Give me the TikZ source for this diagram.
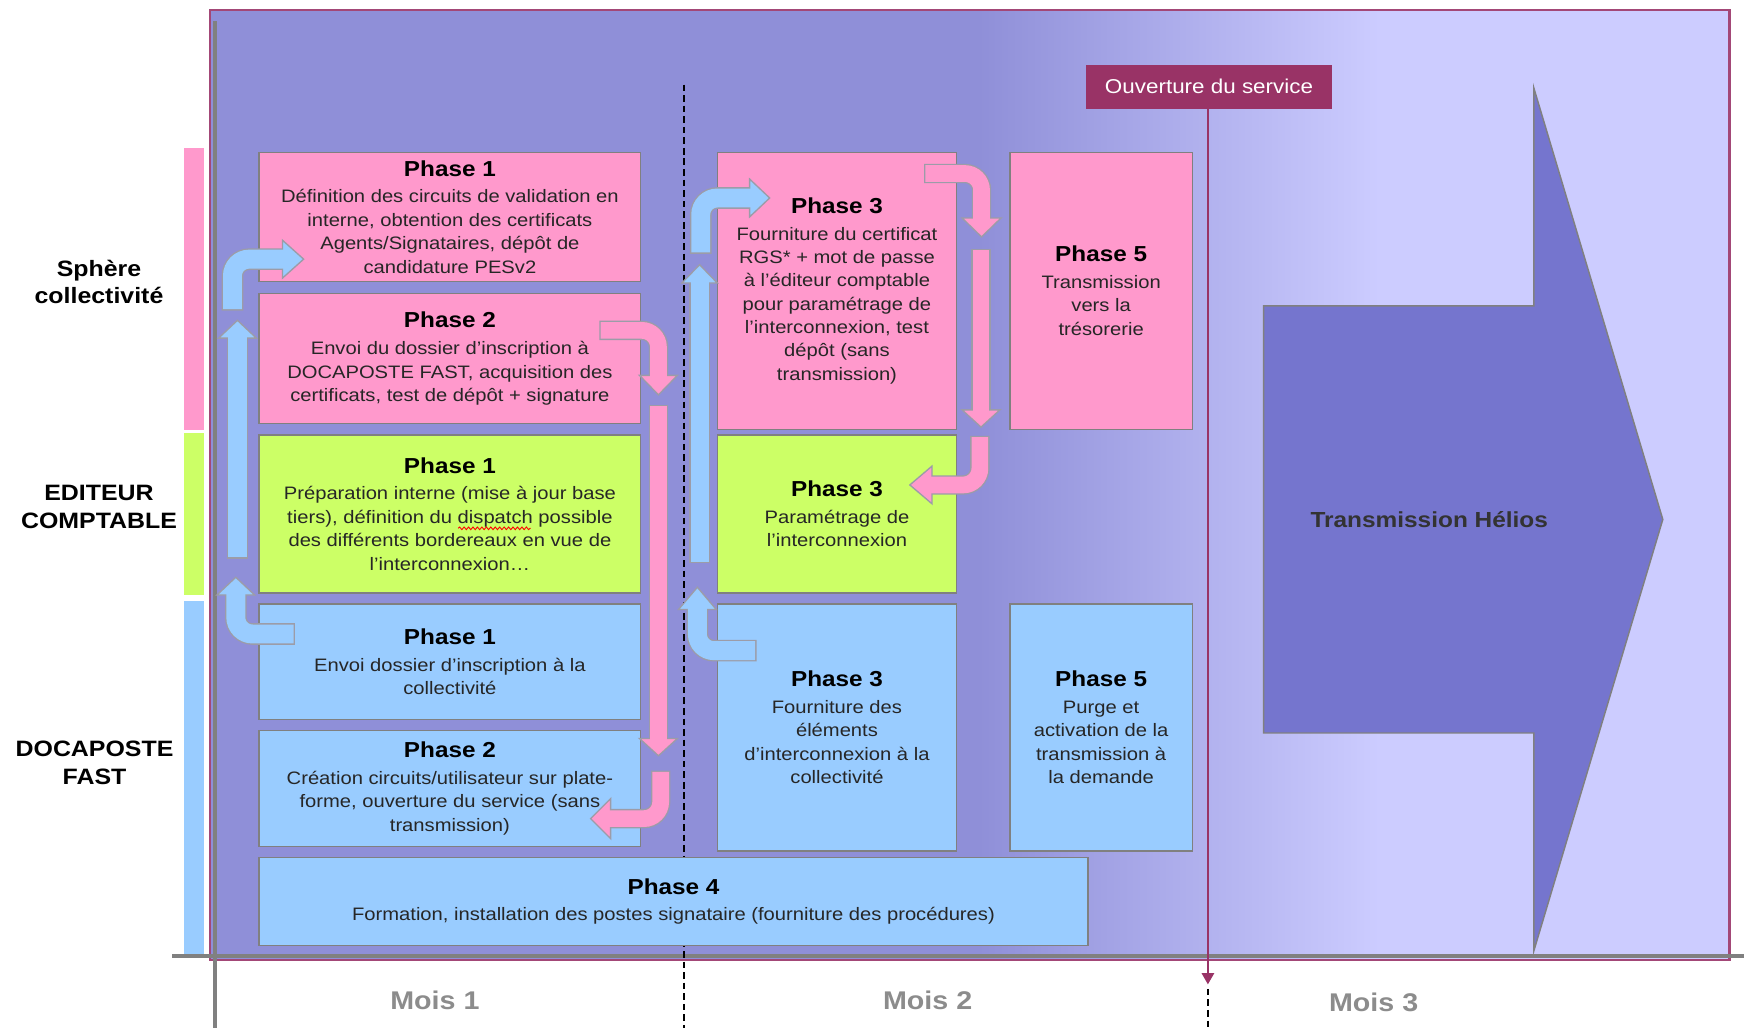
\documentclass[tikz,border=0pt]{standalone}
\usepackage{fontspec}
\setmainfont{Liberation Sans}[FakeStretch=1.12]
\usetikzlibrary{arrows.meta,decorations.pathmorphing}
\definecolor{cpink}{HTML}{FF99CC}
\definecolor{cgreen}{HTML}{CCFF66}
\definecolor{cblue}{HTML}{99CCFF}
\definecolor{purp}{HTML}{8F8FD8}
\definecolor{lav}{HTML}{CCCCFF}
\definecolor{framec}{HTML}{A34777}
\definecolor{ouvc}{HTML}{993366}
\definecolor{boxgray}{HTML}{808080}
\definecolor{arrgray}{HTML}{9C9CA8}
\definecolor{axgray}{HTML}{808080}
\definecolor{helios}{HTML}{7575CE}
\definecolor{bodyc}{HTML}{262626}
\definecolor{moisc}{HTML}{8C8C8C}
\newcommand\myBody{\fontsize{16.2}{21}\selectfont}
\newcommand\myHead{\fontsize{19.5}{24}\selectfont\bfseries\color{black}}
\newcommand\hd[1]{{\myHead #1}\\[3pt]}
% block arrow: #1 colour, #2 shaft width, #3 shaft path, #4 head polygon
\newcommand\blockarr[4]{%
  \draw[line width=#2+2.4, draw=arrgray, rounded corners=15pt, shorten <=-1.2pt] #3;
  \filldraw[fill=#1, draw=arrgray, line width=1.2, line join=miter] #4 -- cycle;
  \draw[line width=#2, draw=#1, rounded corners=15pt] #3;
}
\tikzset{
  boxbase/.style={draw=boxgray, line width=1.3, inner sep=0pt, align=center, text=bodyc, font=\myBody},
  pinkbox/.style={boxbase, fill=cpink},
  greenbox/.style={boxbase, fill=cgreen},
  bluebox/.style={boxbase, fill=cblue},
  lanelabel/.style={align=center, font=\fontsize{20}{25}\selectfont\bfseries, text=black},
  moislabel/.style={font=\fontsize{23}{26}\selectfont\bfseries, text=moisc},
  timeline/.style={dash pattern=on 6pt off 3.5pt, line width=1.5, draw=black},
}
\begin{document}
\begin{tikzpicture}[x=1pt,y=-1pt]
\useasboundingbox (0,0) rectangle (1568,924);
\fill[white] (0,0) rectangle (1568,924);
% background with gradient
\fill[purp] (189,9) rectangle (880,863);
\shade[left color=purp, right color=lav] (879.5,9) rectangle (1240.5,863);
\fill[lav] (1240,9) rectangle (1555,863);
\draw[framec, line width=2] (189,9) rectangle (1555,863);
% lane bars
\fill[cpink] (165,133) rectangle (183,387);
\fill[cgreen] (165,389) rectangle (183,535);
\fill[cblue] (165,540) rectangle (183,860);
\node[lanelabel] (lsph) at (89,253.5) {Sphère\\collectivité};
\node[lanelabel] (ledi) at (89,455.5) {EDITEUR\\COMPTABLE};
\node[lanelabel] (ldoc) at (85,685.5) {DOCAPOSTE\\FAST};
% axes
\draw[axgray, line width=3.5] (193.5,19) -- (193.5,924);
\draw[axgray, line width=3] (155,859.5) -- (1568,859.5);
% month separator
\draw[timeline] (615,76) -- (615,924);
% Transmission Helios
\draw[fill=helios, draw=gray, line width=1.3, line join=miter] (1136,275) -- (1379,275) -- (1379,79) -- (1495,467) -- (1379,855) -- (1379,659) -- (1136,659) -- cycle;
\node[font=\fontsize{19.6}{22}\selectfont\bfseries, text=black!80] (helios) at (1285,467) {Transmission Hélios};
% boxes column 1
\node[pinkbox, minimum width=343, minimum height=116] (pP1) at (404.5,195)
  {\hd{Phase 1}Définition des circuits de validation en\\interne, obtention des certificats\\Agents/Signataires, dépôt de\\candidature PESv2};
\node[pinkbox, minimum width=343, minimum height=117] (pP2) at (404.5,322.5)
  {\hd{Phase 2}Envoi du dossier d’inscription à\\DOCAPOSTE FAST, acquisition des\\certificats, test de dépôt + signature};
\node[greenbox, minimum width=343, minimum height=142] (gP1) at (404.5,462)
  {\hd{Phase 1}Préparation interne (mise à jour base\\tiers), définition du dispatch possible\\des différents bordereaux en vue de\\l’interconnexion…};
\node[bluebox, minimum width=343, minimum height=104] (bP1) at (404.5,595)
  {\hd{Phase 1}Envoi dossier d’inscription à la\\collectivité};
\node[bluebox, minimum width=343, minimum height=104] (bP2) at (404.5,709)
  {\hd{Phase 2}Création circuits/utilisateur sur plate-\\forme, ouverture du service (sans\\transmission)};
% column 2
\node[pinkbox, minimum width=215, minimum height=249] (pP3) at (752.5,261.5)
  {\hd{Phase 3}Fourniture du certificat\\RGS* + mot de passe\\à l’éditeur comptable\\pour paramétrage de\\l’interconnexion, test\\dépôt (sans\\transmission)};
\node[greenbox, minimum width=215, minimum height=142] (gP3) at (752.5,462)
  {\hd{Phase 3}Paramétrage de\\l’interconnexion};
\node[bluebox, minimum width=215, minimum height=222] (bP3) at (752.5,654)
  {\hd{Phase 3}Fourniture des\\éléments\\d’interconnexion à la\\collectivité};
% column 3
\node[pinkbox, minimum width=164, minimum height=249] (pP5) at (990,261.5)
  {\hd{Phase 5}Transmission\\vers la\\trésorerie};
\node[bluebox, minimum width=164, minimum height=222] (bP5) at (990,654)
  {\hd{Phase 5}Purge et\\activation de la\\transmission à\\la demande};
% phase 4
\node[bluebox, minimum width=745, minimum height=79] (P4) at (605.5,810.5)
  {\hd{Phase 4}Formation, installation des postes signataire (fourniture des procédures)};
% spelling squiggle
\draw[red, line width=0.8, decorate, decoration={snake, amplitude=1.2pt, segment length=4pt}] (412,475) -- (477,475);
% Ouverture du service
\node[fill=ouvc, minimum width=221, minimum height=40, inner sep=0pt, text=white, font=\fontsize{18}{21}\selectfont] (ouv) at (1087,78) {Ouverture du service};
\coordinate (ouvEnd) at (1086,885);
\coordinate (ouvDashA) at (1086,889);
\coordinate (ouvDashB) at (1086,924);
\draw[ouvc, line width=1.6, -{Triangle[width=11pt,length=10pt]}] (ouv.south -| ouvEnd) -- (ouvEnd);
\draw[timeline] (ouvDashA) -- (ouvDashB);
% blue arrows column 1
\blockarr{cblue}{17}{(209,278) -- (209,233) -- (256,233)}{(254,216) -- (273,233) -- (254,250)}
\blockarr{cblue}{17}{(213.5,501) -- (213.5,302)}{(196.5,304) -- (213.5,288) -- (230.5,304)}
\blockarr{cblue}{17}{(264,570) -- (212,570) -- (212,533)}{(195,535) -- (212,519) -- (229,535)}
% pink arrows column 1
\blockarr{cpink}{15}{(540,297) -- (592,297) -- (592,339.5)}{(575,337.5) -- (592,355) -- (609,337.5)}
\blockarr{cpink}{15}{(592,365) -- (592,666)}{(575,664) -- (592,679.5) -- (609,664)}
\blockarr{cpink}{15}{(594,694) -- (594,736) -- (547,736)}{(549,718) -- (531,736) -- (549,754)}
% blue arrows column 2
\blockarr{cblue}{17}{(630,227) -- (630,178) -- (676,178)}{(674,161) -- (692,178) -- (674,195)}
\blockarr{cblue}{16}{(629,505) -- (629,252.5)}{(613,254.5) -- (629,238) -- (645,254.5)}
\blockarr{cblue}{17}{(679,585) -- (627,585) -- (627,546)}{(610,548) -- (627,528) -- (644,548)}
% pink arrows column 2
\blockarr{cpink}{15}{(832,156) -- (882.5,156) -- (882.5,198)}{(865,196) -- (882.5,213) -- (900,196)}
\blockarr{cpink}{15}{(882,225) -- (882,370.5)}{(865,368.5) -- (882,384) -- (899,368.5)}
\blockarr{cpink}{15}{(881,393) -- (881,436) -- (836,436)}{(838,419) -- (818,436) -- (838,453)}
% months
\node[moislabel] (m1) at (391,899) {Mois 1};
\node[moislabel] (m2) at (834,899) {Mois 2};
\node[moislabel] (m3) at (1235,901) {Mois 3};
\end{tikzpicture}
\end{document}
